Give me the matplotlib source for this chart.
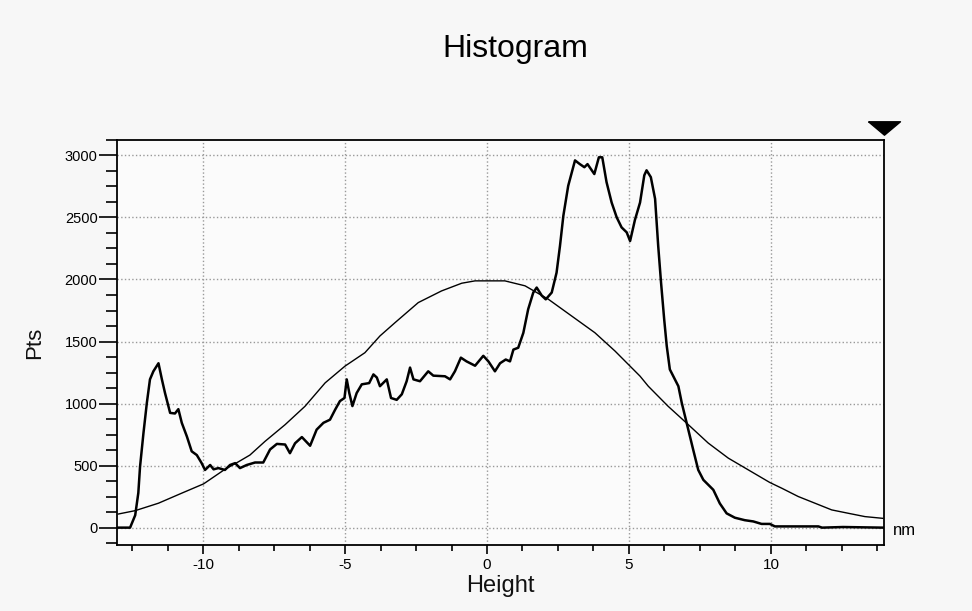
import numpy as np
import matplotlib
matplotlib.use("Agg")
import matplotlib.pyplot as plt
from matplotlib.ticker import MultipleLocator

plt.rcParams['font.family'] = ['Liberation Sans', 'DejaVu Sans']
plt.rcParams['axes.unicode_minus'] = False

# Measured histogram (thick line), height in nm vs counts
hist_x = [-13.0, -12.57, -12.39, -12.28, -12.22, -12.10, -11.98, -11.87, -11.75, -11.57,
          -11.45, -11.34, -11.16, -10.99, -10.87, -10.75, -10.57, -10.40, -10.22, -10.05,
          -9.93, -9.75, -9.63, -9.46, -9.23, -9.05, -8.87, -8.70, -8.46, -8.17,
          -7.88, -7.64, -7.40, -7.11, -6.94, -6.76, -6.52, -6.23, -6.00, -5.76,
          -5.53, -5.35, -5.18, -5.02, -4.94, -4.85, -4.74, -4.59, -4.41, -4.15,
          -4.00, -3.88, -3.77, -3.53, -3.38, -3.18, -3.00, -2.83, -2.71, -2.59,
          -2.36, -2.07, -1.89, -1.48, -1.30, -1.13, -0.92, -0.72, -0.42, -0.13,
          0.05, 0.28, 0.46, 0.66, 0.81, 0.93, 1.10, 1.28, 1.45, 1.63,
          1.75, 1.93, 2.07, 2.28, 2.45, 2.57, 2.69, 2.86, 3.10, 3.27,
          3.43, 3.54, 3.78, 3.94, 4.06, 4.21, 4.39, 4.57, 4.74, 4.92,
          5.04, 5.21, 5.39, 5.54, 5.62, 5.77, 5.92, 6.03, 6.13, 6.24,
          6.33, 6.44, 6.62, 6.74, 6.86, 7.03, 7.26, 7.44, 7.62, 7.97,
          8.20, 8.44, 8.73, 9.08, 9.38, 9.67, 9.96, 10.14, 11.67, 11.80,
          12.54, 13.95]
hist_y = [0, 0, 100, 280, 490, 760, 1005, 1195, 1260, 1325,
          1195, 1085, 925, 920, 955, 845, 735, 615, 585, 520,
          465, 505, 470, 480, 465, 505, 520, 480, 505, 525,
          525, 630, 675, 670, 600, 680, 730, 660, 790, 845,
          870, 950, 1020, 1045, 1195, 1085, 980, 1085, 1155, 1165,
          1235, 1210, 1140, 1195, 1045, 1030, 1075, 1180, 1290, 1195,
          1180, 1260, 1225, 1220, 1195, 1260, 1370, 1340, 1305, 1385,
          1340, 1260, 1325, 1355, 1340, 1435, 1450, 1570, 1760, 1895,
          1935, 1870, 1840, 1895, 2055, 2270, 2515, 2755, 2960, 2930,
          2905, 2930, 2850, 2985, 2985, 2785, 2620, 2500, 2420, 2380,
          2310, 2480, 2620, 2840, 2880, 2825, 2650, 2270, 1975, 1680,
          1465, 1275, 1195, 1140, 1005, 845, 630, 465, 385, 305,
          195, 115, 80, 60, 50, 30, 30, 10, 10, 0,
          5, 0]

# Fitted curve (thin line)
fit_x = [-12.98, -12.39, -11.57, -10.75, -9.98, -9.23, -8.76, -8.35, -7.82, -7.11,
         -6.41, -5.70, -5.00, -4.30, -3.77, -3.24, -2.42, -1.60, -0.89, -0.42,
         0.63, 1.34, 2.16, 2.98, 3.80, 4.51, 5.39, 5.68, 6.03, 6.38,
         7.09, 7.79, 8.50, 9.20, 9.96, 10.38, 10.96, 11.55, 12.14, 12.72,
         13.31, 13.94]
fit_y = [110, 137, 197, 278, 353, 470, 530, 585, 695, 830,
         978, 1167, 1302, 1410, 1545, 1652, 1814, 1908, 1970, 1989,
         1989, 1949, 1841, 1706, 1571, 1423, 1221, 1140, 1059, 978,
         830, 682, 560, 466, 364, 318, 251, 197, 143, 116,
         89, 75]

xticks = [-10, -5, 0, 5, 10]
yticks = [0, 500, 1000, 1500, 2000, 2500, 3000]

fig = plt.figure(figsize=(9.72, 6.11), dpi=100, facecolor='#f7f7f7')
ax = fig.add_axes([0.1204, 0.108, 0.789, 0.663])
ax.set_facecolor('#fbfbfb')

ax.plot(fit_x, fit_y, color='black', lw=1.0)
ax.plot(hist_x, hist_y, color='black', lw=1.8)

ax.set_xlim(-13.03, 13.98)
ax.set_ylim(-140, 3125)
ax.set_xticks(xticks)
ax.set_yticks(yticks)
ax.xaxis.set_minor_locator(MultipleLocator(1.25))
ax.yaxis.set_minor_locator(MultipleLocator(125))
ax.grid(True, which='major', color='#999999', ls=':', lw=1.0)

ax.tick_params(axis='y', which='major', direction='out', length=13, width=1.2, labelsize=10.5, pad=1)
ax.tick_params(axis='y', which='minor', direction='out', length=8, width=1.2)
ax.tick_params(axis='x', which='major', direction='out', length=6.5, width=1.2, labelsize=11, pad=3)
ax.tick_params(axis='x', which='minor', direction='out', length=4.5, width=1.2)
for s in ax.spines.values():
    s.set_linewidth(1.3)

ax.set_xlabel('Height', fontsize=17, labelpad=2, color='#111111')
ax.set_ylabel('Pts', fontsize=16, labelpad=14, color='#111111')
ax.text(1.012, 0.035, 'nm', transform=ax.transAxes, fontsize=12, ha='left', va='center')
fig.text(0.53, 0.92, 'Histogram', fontsize=23, ha='center', va='center')

# marker triangle above the top right corner
tri = [(-1, 0.42), (1, 0.42), (0, -0.42), (-1, 0.42)]
ax.plot([1.0], [1.03], marker=tri, markersize=23, color='black',
        transform=ax.transAxes, clip_on=False)

fig.savefig('out.png', dpi=100, facecolor=fig.get_facecolor())
